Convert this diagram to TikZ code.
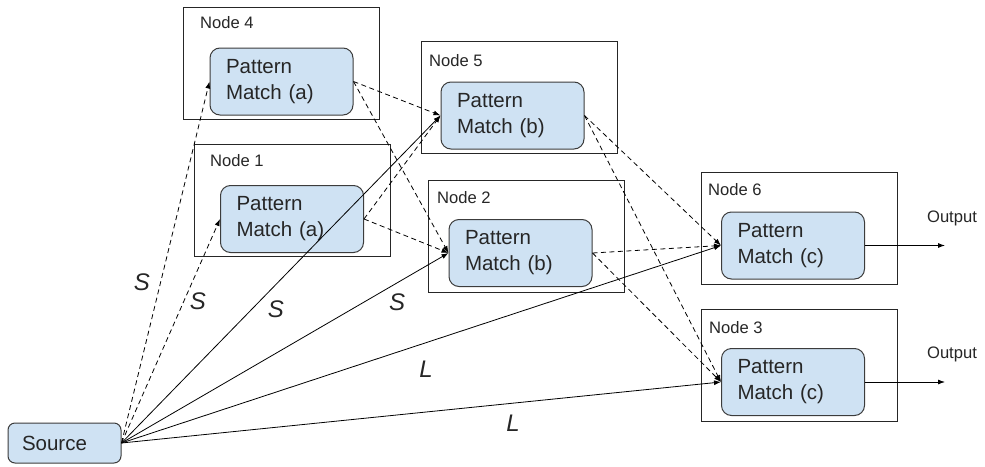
\documentclass[tikz,border=0pt]{standalone}
\usepackage{xcolor}
\usepackage{fontspec}
\setmainfont{Liberation Sans}
\usetikzlibrary{arrows.meta}
\definecolor{pmblue}{HTML}{CFE2F3}
\definecolor{pmline}{HTML}{3C3C3C}

\begin{document}
\begin{tikzpicture}[x=1pt,y=-1pt,
  host/.style={draw=black!85,line width=0.9pt,minimum width=196pt,minimum height=112pt,inner sep=0pt},
  match/.style={draw=pmline,fill=pmblue,line width=1pt,rounded corners=10pt,minimum width=143pt,minimum height=67pt,
    text width=111pt,inner xsep=16pt,inner ysep=0pt,align=left,font=\fontsize{20.5}{26}\selectfont,text=black!85},
  hostname/.style={anchor=base west,inner sep=0pt,font=\fontsize{16.6}{19}\selectfont,text=black!85},
  tag/.style={font=\fontsize{24}{26}\selectfont\itshape,text=black!85},
  hop/.style={-{Latex[length=7pt,width=5pt]},line width=0.8pt},
  weak/.style={hop,dash pattern=on 5pt off 3.5pt}]
\useasboundingbox (0,0) rectangle (985,466);

% hosts
\node[host] (n4) at (281.5,63.5) {};
\node[host] (n5) at (519,97.5) {};
\node[host] (n1) at (292.5,200.5) {};
\node[host] (n2) at (526.5,236) {};
\node[host] (n6) at (799.5,228) {};
\node[host] (n3) at (799,365) {};
\node[hostname] (l4) at (200,28) {Node 4};
\node[hostname] (l5) at (429,66) {Node 5};
\node[hostname] (l1) at (210,166) {Node 1};
\node[hostname] (l2) at (437,203) {Node 2};
\node[hostname] (l6) at (708,195) {Node 6};
\node[hostname] (l3) at (709,333) {Node 3};

% pattern matchers
\node[match] (pm4) at (281.5,81.5) {Pattern\\Match (a)};
\node[match] (pm5) at (512.5,115.5) {Pattern\\Match (b)};
\node[match] (pm1) at (292,219) {Pattern\\Match (a)};
\node[match] (pm2) at (520.5,253) {Pattern\\Match (b)};
\node[match] (pm6) at (793,245.5) {Pattern\\Match (c)};
\node[match] (pm3) at (793,382) {Pattern\\Match (c)};
\node[match,minimum width=113pt,minimum height=40pt,text width=85pt,inner xsep=14pt,rounded corners=7pt] (src) at (64.5,443) {Source};

% outputs
\coordinate (out6) at (945,245.5);
\coordinate (out3) at (945,382);
\node[hostname,anchor=center] (o6) at (952,218) {Output};
\node[hostname,anchor=center] (o3) at (952,354) {Output};

% links
\draw[weak] (src.east) -- (pm4.west);
\draw[weak] (src.east) -- (pm1.west);
\draw[hop] (src.east) -- (pm5.west);
\draw[hop] (src.east) -- (pm2.west);
\draw[hop] (src.east) -- (pm6.west);
\draw[hop] (src.east) -- (pm3.west);
\draw[weak] (pm4.east) -- (pm5.west);
\draw[weak] (pm4.east) -- (pm2.west);
\draw[weak] (pm1.east) -- (pm5.west);
\draw[weak] (pm1.east) -- (pm2.west);
\draw[weak] (pm5.east) -- (pm6.west);
\draw[weak] (pm5.east) -- (pm3.west);
\draw[weak] (pm2.east) -- (pm6.west);
\draw[weak] (pm2.east) -- (pm3.west);
\draw[hop] (pm6.east) -- (out6);
\draw[hop] (pm3.east) -- (out3);

\node[tag] (t1) at (142,282) {S};
\node[tag] (t2) at (198,301) {S};
\node[tag] (t3) at (276,309) {S};
\node[tag] (t4) at (397,302) {S};
\node[tag] (t5) at (426,369) {L};
\node[tag] (t6) at (513,423) {L};
\end{tikzpicture}
\end{document}
